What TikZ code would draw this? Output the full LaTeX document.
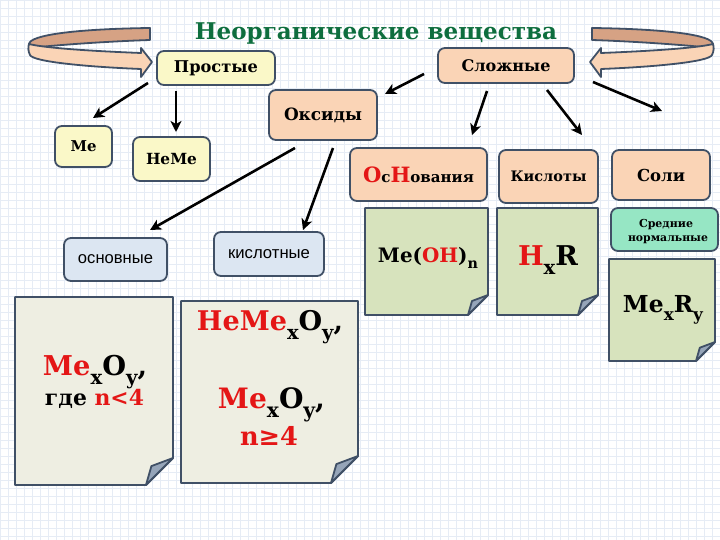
\documentclass[tikz,border=0pt]{standalone}
\usepackage{fontspec}
\setmainfont{DejaVu Serif}
\newfontfamily\sansf{Liberation Sans}
\usepackage{graphicx}
\usetikzlibrary{arrows.meta}

\definecolor{bord}{RGB}{64,80,102}
\definecolor{yel}{RGB}{250,248,200}
\definecolor{pch}{RGB}{250,212,182}
\definecolor{blu}{RGB}{220,230,242}
\definecolor{mint}{RGB}{150,230,196}
\definecolor{ngreen}{RGB}{215,227,189}
\definecolor{nlight}{RGB}{238,238,226}
\definecolor{flapc}{RGB}{150,165,185}
\definecolor{ttl}{RGB}{14,110,62}
\definecolor{rd}{RGB}{228,22,22}
\definecolor{ribdark}{RGB}{214,162,132}
\definecolor{riblight}{RGB}{250,212,182}
\definecolor{gridc}{RGB}{230,236,245}

\newcommand\fw[2]{\resizebox{#1pt}{!}{#2}}
\newcommand\lo[1]{\raisebox{-0.35em}{\scalebox{0.72}{#1}}}
\newcommand\notebox[6]{%
  \filldraw[notest, fill=#6] (#1,#2) -- (#3,#2) -- (#3,{#4-#5}) -- ({#3-#5},#4) -- (#1,#4) -- cycle;
  \filldraw[notest, fill=flapc] (#3,{#4-#5}) -- ({#3-0.8*#5},{#4-0.7*#5}) -- ({#3-#5},#4) -- cycle;}

\tikzset{
  box/.style={draw=bord, line width=1.8pt, rounded corners=7pt, inner sep=0pt, anchor=center, align=center},
  notest/.style={draw=bord, line width=1.8pt, line join=round},
  rib/.style={draw=bord, line width=1.8pt, line join=round},
  arr/.style={-{Stealth[length=11pt,width=11pt,inset=3pt]}, line width=2.6pt, black},
  lbl/.style={anchor=base, inner sep=0pt}
}

\begin{document}
\begin{tikzpicture}[x=1pt, y=-1pt]
\useasboundingbox (0,0) rectangle (720,540);
\fill[white] (0,0) rectangle (720,540);
\draw[gridc, line width=0.5pt] (0,0) grid[step=8pt] (720,540);

% ribbons
\begin{scope}
\filldraw[rib, fill=ribdark] (150,28) .. controls (75,29) and (30,35) .. (29,44) .. controls (33,48) and (40,47) .. (50,46) .. controls (85,43) and (120,41) .. (150,40) -- cycle;
\filldraw[rib, fill=riblight] (29,44) .. controls (45,48) and (90,51) .. (141,53) -- (141,48) -- (152,62) -- (141,77) -- (141,69) .. controls (90,67) and (33,62) .. (30,55) .. controls (28,51) and (28,47) .. (29,44) -- cycle;
\end{scope}
\begin{scope}[shift={(742,0)}, xscale=-1]
\filldraw[rib, fill=ribdark] (150,28) .. controls (75,29) and (30,35) .. (29,44) .. controls (33,48) and (40,47) .. (50,46) .. controls (85,43) and (120,41) .. (150,40) -- cycle;
\filldraw[rib, fill=riblight] (29,44) .. controls (45,48) and (90,51) .. (141,53) -- (141,48) -- (152,62) -- (141,77) -- (141,69) .. controls (90,67) and (33,62) .. (30,55) .. controls (28,51) and (28,47) .. (29,44) -- cycle;
\end{scope}

% title
\node[lbl] (title) at (376,40) {\fw{362}{\bfseries\color{ttl}Неорганические вещества}};

% boxes
\node[box, fill=yel, minimum width=118pt, minimum height=34pt] (prost) at (216,68) {\fw{84}{\bfseries Простые}};
\node[box, fill=pch, minimum width=136pt, minimum height=35pt] (slozh) at (506,65.5) {\fw{89}{\bfseries Сложные}};
\node[box, fill=pch, minimum width=108pt, minimum height=50pt] (oks) at (323,115) {\fw{78}{\bfseries Оксиды}};
\node[box, fill=yel, minimum width=57pt, minimum height=41pt] (me) at (83.5,146.5) {\fw{26}{\bfseries Me}};
\node[box, fill=yel, minimum width=77pt, minimum height=44pt] (neme) at (171.5,159) {\fw{51}{\bfseries НеМе}};
\node[box, fill=blu, minimum width=103pt, minimum height=43pt] (osnv) at (115.5,259.5) {\fw{75}{\sansf основные}};
\node[box, fill=blu, minimum width=110pt, minimum height=44pt] (kisn) at (269,254) {\fw{82}{\sansf кислотные}};
\node[box, fill=pch, minimum width=137pt, minimum height=53pt] (osn) at (418.5,174.5) {\fw{111}{\bfseries{\color{rd}\scalebox{1.4}{О}}с{\color{rd}\scalebox{1.4}{Н}}ования}};
\node[box, fill=pch, minimum width=99pt, minimum height=53pt] (kis) at (548.5,176.5) {\fw{76}{\bfseries Кислоты}};
\node[box, fill=pch, minimum width=98pt, minimum height=50pt] (soli) at (661,175) {\fw{48}{\bfseries Соли}};
\node[box, fill=mint, minimum width=107pt, minimum height=43pt] (sred) at (664.5,229.5) {};
\node[lbl] (sred1) at (666,227) {\fw{54}{\bfseries Средние}};
\node[lbl] (sred2) at (668,241) {\fw{80}{\bfseries нормальные}};

% notes
\notebox{15}{297}{173}{485}{27}{nlight}
\notebox{181}{301}{358}{483}{27}{nlight}
\notebox{365}{208}{488}{315}{20}{ngreen}
\notebox{497}{208}{598}{315}{20}{ngreen}
\notebox{609}{259}{715}{361}{19}{ngreen}

\node[lbl] (n1a) at (95,375) {\fw{104}{\bfseries{\color{rd}Me}\lo{x}O\lo{y},}};
\node[lbl] (n1b) at (94.5,405) {\fw{99}{\bfseries где {\color{rd}n<4}}};
\node[lbl] (n2a) at (270,330) {\fw{146}{\bfseries{\color{rd}НеМе}\lo{x}O\lo{y},}};
\node[lbl] (n2b) at (271.5,408) {\fw{107}{\bfseries{\color{rd}Me}\lo{x}O\lo{y},}};
\node[lbl] (n2c) at (269,445) {\fw{58}{\bfseries\color{rd}n≥4}};
\node[lbl] (n3) at (428,262) {\fw{100}{\bfseries Me({\color{rd}OH})\lo{n}}};
\node[lbl] (n4) at (548,265) {\fw{60}{\bfseries{\color{rd}H}\lo{x}R}};
\node[lbl] (n5) at (663,312) {\fw{80}{\bfseries Me\lo{x}R\lo{y}}};

% arrows
\coordinate (a1s) at (148,83); \coordinate (a1e) at (93,118);
\coordinate (a2s) at (176,91); \coordinate (a2e) at (176,132);
\coordinate (a3s) at (424,74); \coordinate (a3e) at (385,94);
\coordinate (a4s) at (487,91); \coordinate (a4e) at (472,135);
\coordinate (a5s) at (547,90); \coordinate (a5e) at (582,135);
\coordinate (a6s) at (593,82); \coordinate (a6e) at (662,111);
\coordinate (a7s) at (295,148); \coordinate (a7e) at (150,230);
\coordinate (a8s) at (333,148); \coordinate (a8e) at (303,230);
\draw[arr] (a1s) -- (a1e);
\draw[arr] (a2s) -- (a2e);
\draw[arr] (a3s) -- (a3e);
\draw[arr] (a4s) -- (a4e);
\draw[arr] (a5s) -- (a5e);
\draw[arr] (a6s) -- (a6e);
\draw[arr] (a7s) -- (a7e);
\draw[arr] (a8s) -- (a8e);
\end{tikzpicture}
\end{document}
